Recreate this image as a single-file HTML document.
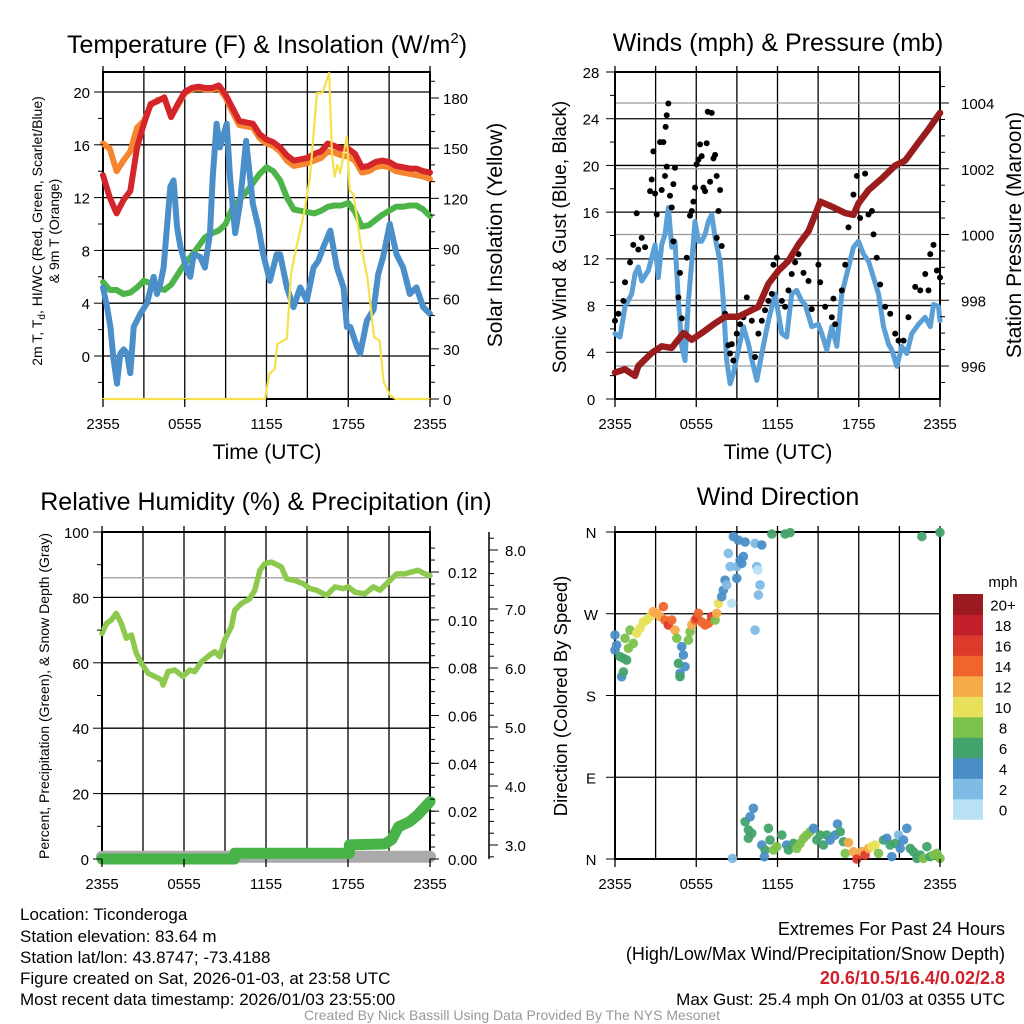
<!DOCTYPE html>
<html><head><meta charset="utf-8">
<style>
html,body{margin:0;padding:0;background:#fff;}
svg{display:block;font-family:"Liberation Sans",sans-serif;}
</style></head>
<body>
<svg id="chart" width="1024" height="1024" viewBox="0 0 1024 1024" xmlns="http://www.w3.org/2000/svg">
<rect x="0" y="0" width="1024" height="1024" fill="#fff"/>
<g id="p1"></g>
<g id="p2"></g>
<g id="p3"></g>
<g id="p4"></g>
<g id="txt" font-size="17" fill="#000">
<text x="267" y="53" font-size="25" text-anchor="middle">Temperature (F) &amp; Insolation (W/m<tspan dy="-10" font-size="15">2</tspan><tspan dy="10">)</tspan></text>
<text x="778" y="51" font-size="25" text-anchor="middle">Winds (mph) &amp; Pressure (mb)</text>
<text x="266" y="510" font-size="25" text-anchor="middle">Relative Humidity (%) &amp; Precipitation (in)</text>
<text x="778" y="505" font-size="25" text-anchor="middle">Wind Direction</text>
<text x="267" y="459" font-size="21" text-anchor="middle">Time (UTC)</text>
<text x="778" y="459" font-size="21" text-anchor="middle">Time (UTC)</text>
<text transform="translate(42,231) rotate(-90)" font-size="14" text-anchor="middle">2m T, T<tspan dy="3" font-size="10">d</tspan><tspan dy="-3">, HI/WC (Red, Green, Scarlet/Blue)</tspan></text>
<text transform="translate(59,231) rotate(-90)" font-size="14" text-anchor="middle">&amp; 9m T (Orange)</text>
<text transform="translate(502,235) rotate(-90)" font-size="21" text-anchor="middle">Solar Insolation (Yellow)</text>
<text transform="translate(566,237) rotate(-90)" font-size="19" text-anchor="middle">Sonic Wind &amp; Gust (Blue, Black)</text>
<text transform="translate(1021,235) rotate(-90)" font-size="21" text-anchor="middle">Station Pressure (Maroon)</text>
<text transform="translate(49,696) rotate(-90)" font-size="14" text-anchor="middle">Percent, Precipitation (Green), &amp; Snow Depth (Gray)</text>
<text transform="translate(567,696) rotate(-90)" font-size="18.5" text-anchor="middle">Direction (Colored By Speed)</text>
<text x="20" y="920">Location: Ticonderoga</text>
<text x="20" y="942">Station elevation: 83.64 m</text>
<text x="20" y="963">Station lat/lon: 43.8747; -73.4188</text>
<text x="20" y="984">Figure created on Sat, 2026-01-03, at 23:58 UTC</text>
<text x="20" y="1005">Most recent data timestamp: 2026/01/03 23:55:00</text>
<text x="1005" y="935" text-anchor="end" font-size="18">Extremes For Past 24 Hours</text>
<text x="1005" y="960" text-anchor="end" font-size="18">(High/Low/Max Wind/Precipitation/Snow Depth)</text>
<text x="1005" y="984" text-anchor="end" fill="#d0202a" font-size="18" font-weight="bold">20.6/10.5/16.4/0.02/2.8</text>
<text x="1005" y="1005" text-anchor="end">Max Gust: 25.4 mph On 01/03 at 0355 UTC</text>
<text x="512" y="1020" font-size="14" fill="#999" text-anchor="middle">Created By Nick Bassill Using Data Provided By The NYS Mesonet</text>
</g>
</svg>
<script>
// ---------- data ----------
const halfHours = [0,0.5,1,1.5,2,2.5,3,3.5,4,4.5,5,5.5,6,6.5,7,7.5,8,8.5,9,9.5,10,10.5,11,11.5,12,12.5,13,13.5,14,14.5,15,15.5,16,16.5,17,17.5,18,18.5,19,19.5,20,20.5,21,21.5,22,22.5,23,23.5,24];
const tempRed = [13.7,12.0,10.8,11.8,12.5,15.8,17.6,19.1,19.3,19.6,18.1,19.1,20.0,20.3,20.4,20.3,20.3,20.5,19.8,18.8,17.8,17.7,17.6,16.8,16.4,16.2,15.8,15.2,14.8,14.9,15.0,15.3,15.5,16.1,15.9,15.7,15.7,15.3,14.3,14.4,14.7,14.8,14.7,14.4,14.3,14.2,14.2,14.0,13.9];
const tempOrange = [16.1,15.7,14.0,14.8,15.5,17.3,17.8,19.0,19.4,19.5,18.2,19.0,19.9,20.2,20.3,20.2,20.2,20.3,19.6,18.5,17.5,17.4,17.3,16.5,16.1,15.9,15.5,14.8,14.4,14.5,14.6,14.8,15.0,15.5,15.4,15.2,15.1,14.8,13.9,14.0,14.3,14.4,14.3,14.0,13.9,13.8,13.7,13.6,13.4];
const tempGreen = [5.6,5.0,5.0,4.7,4.8,5.2,5.7,5.5,5.2,5.0,5.4,6.2,7.0,7.6,8.3,9.0,9.3,9.5,10.0,11.2,11.8,12.4,13.1,13.8,14.3,14.0,13.3,12.0,11.1,11.0,10.9,10.8,11.0,11.3,11.4,11.4,11.6,10.9,9.8,9.9,10.3,10.7,11.0,11.3,11.3,11.4,11.4,11.1,10.6];
const dewTime = [0,0.3,0.54,0.78,1.03,1.27,1.52,1.76,2.0,2.25,2.74,3.23,3.72,3.96,4.21,4.45,4.94,5.18,5.43,5.67,6.16,6.41,6.65,7.14,7.48,7.85,8.05,8.34,8.58,9.08,9.33,9.7,10.05,10.5,11.0,11.4,11.76,12.25,12.75,13.0,13.5,13.98,14.47,14.96,15.45,15.8,16.19,16.68,17.17,17.65,17.9,18.15,18.64,18.88,19.37,19.85,20.2,20.56,21.05,21.54,22.03,22.52,23.0,23.5,24];
const dewVals = [5.2,3.7,2.2,-0.3,-2.1,0.2,0.5,0.2,-1.3,2.2,3.2,4.0,6.0,4.7,5.5,6.7,12.8,13.3,9.8,8.3,6.5,6.0,7.7,7.5,6.7,9.3,13.5,17.6,15.8,17.6,13.5,9.3,11.5,16.3,11.5,9.8,7.7,5.7,7.7,7.7,5.2,3.7,5.2,4.2,6.7,7.2,8.3,9.5,6.7,5.2,2.2,2.2,0.7,0.2,2.7,3.5,6.2,7.5,10.0,7.7,6.7,4.7,5.2,3.7,3.2,4.2];
const solarTime = [0,11.9,12.2,12.6,12.8,13.5,13.8,14.2,14.7,15.2,15.7,16.1,16.6,16.8,17.0,17.2,17.4,17.9,18.1,18.4,18.9,19.4,19.9,20.3,20.6,21.1,21.5,24];
const solarVals = [0,0,15,18,33,36,75,91,109,133,183,183,195,147,133,140,135,157,125,122,93,73,37,35,10,2,0,0];
const windTime = [0,0.37,0.74,1.23,1.48,1.72,1.97,2.46,2.96,3.2,3.45,3.69,3.94,4.19,4.43,4.68,4.93,5.17,5.42,5.67,5.91,6.16,6.4,6.65,6.9,7.14,7.39,7.76,8.0,8.25,8.5,8.74,9.11,9.48,9.85,10.22,10.47,10.84,11.33,11.82,12.07,12.32,12.68,13.05,13.42,13.79,14.04,14.53,15.02,15.27,15.64,16.01,16.38,16.75,17.12,17.61,17.98,18.35,18.72,19.09,19.46,19.83,20.2,20.44,20.81,21.18,21.55,21.92,22.41,22.9,23.28,23.52,23.89,24];
const windVals = [5.6,5.3,7.9,9.0,10.7,11.3,10.1,11.0,13.2,10.4,13.2,14.1,16.4,13.0,13.5,8.4,4.5,3.3,8.4,11.8,15.2,13.5,13.5,14.1,15.2,15.8,13.8,11.8,8.4,3.3,1.3,2.2,4.2,6.2,4.7,2.8,1.6,3.9,6.7,9.0,7.3,5.6,5.3,9.0,9.3,8.4,8.1,6.2,6.4,5.6,4.2,6.2,4.5,9.0,10.7,13.0,13.5,12.4,11.8,10.4,9.0,6.2,4.7,4.2,2.8,4.5,3.9,5.6,6.4,7.0,6.2,8.1,7.9,6.7];
const gustTime = [0,0.25,0.62,0.74,1.11,1.35,1.6,1.72,1.97,2.22,2.59,2.71,2.83,2.96,3.08,3.33,3.45,3.57,3.69,3.74,3.82,3.94,3.82,4.06,4.19,4.31,4.43,4.31,4.8,4.68,4.93,5.17,5.3,5.54,5.67,5.79,5.91,6.03,6.16,6.28,6.4,6.53,6.65,6.77,6.85,7.02,7.14,7.27,7.39,7.51,7.64,7.76,7.88,7.51,8.13,8.37,8.5,8.62,8.74,8.99,9.24,9.48,9.73,10.1,10.34,10.59,10.84,11.08,11.33,11.58,11.7,11.95,12.32,12.56,12.81,13.05,13.3,13.55,13.92,14.29,14.53,15.02,15.15,15.52,16.01,16.13,16.26,16.75,17.0,17.24,17.61,17.86,18.1,18.47,18.72,18.97,19.09,19.33,19.58,19.95,20.32,20.69,20.94,21.31,21.67,22.17,22.54,22.91,23.15,23.28,23.52,23.77,24.0];
const gustVals = [6.7,7.3,8.4,10.0,11.7,13.2,15.9,12.8,13.8,13.0,17.8,18.8,21.2,17.6,15.8,22.0,17.9,22.0,19.1,23.3,24.3,25.3,19.9,17.4,16.4,18.4,19.8,13.5,10.8,8.7,6.9,5.6,12.1,15.7,16.1,16.9,18.1,20.1,20.5,21.8,20.8,18.1,17.8,21.9,24.6,18.6,24.5,20.6,20.9,19.1,16.1,17.9,13.1,13.8,7.3,4.6,3.9,4.7,3.3,5.6,6.4,7.0,8.7,6.7,3.6,5.6,6.7,7.6,8.4,9.0,11.5,12.1,8.4,7.9,9.3,10.7,11.7,12.4,10.8,10.1,7.7,11.5,10.0,7.9,7.0,8.6,6.4,9.3,11.5,14.7,17.5,19.1,15.5,19.3,15.8,16.1,14.1,12.1,9.8,7.9,7.3,5.6,5.0,5.0,7.0,9.6,9.3,10.7,9.3,12.4,13.2,11.0,10.4];
const presTime = [0,0.74,1.48,1.72,2.71,3.45,4.19,5.05,5.67,6.4,7.39,8.13,9.11,10.59,11.33,12.07,12.81,13.55,14.29,14.78,15.15,16.01,16.99,17.61,17.98,18.72,19.7,20.69,21.43,22.41,23.15,24];
const presVals = [995.8,995.9,995.7,996.0,996.4,996.6,996.55,997.0,996.8,997.0,997.3,997.5,997.5,997.8,998.5,998.9,999.2,999.7,1000.1,1000.6,1001.0,1000.85,1000.65,1000.6,1000.95,1001.35,1001.7,1002.1,1002.25,1002.8,1003.2,1003.7];
const rhTime = [0,0.32,0.68,1.05,1.42,1.78,2.15,2.51,2.88,3.37,3.86,4.35,4.47,4.83,5.32,5.93,6.42,6.79,7.28,7.89,8.25,8.62,8.98,9.47,9.72,10.2,10.81,11.18,11.55,11.91,12.4,13.13,13.5,14.11,14.72,15.21,15.7,16.43,17.04,17.65,18.02,18.51,19.24,19.85,20.34,20.95,21.56,22.17,22.66,23.14,23.63,24];
const rhVals = [69.0,72.0,73.1,75.1,72.0,67.5,68.5,62.9,59.9,56.8,55.8,54.8,53.2,57.3,57.8,55.8,57.8,57.3,60.3,62.4,63.4,61.9,67.0,71.0,76.1,78.1,79.6,82.2,88.3,90.3,90.8,89.3,85.7,85.2,84.2,82.7,82.2,80.6,83.2,82.7,83.2,81.6,81.1,83.2,82.2,84.7,87.2,87.2,87.8,88.3,87.2,86.7];
const precipTime = [0,9.7,9.7,18.1,18.1,20.7,21.2,21.7,22.5,23.1,24];
const precipVals = [0,0,0.0024,0.0024,0.0059,0.0063,0.0081,0.0135,0.0156,0.0184,0.024];
const snowTime = [0,24];
const snowVals = [2.8,2.8];
const dirTime = [0,0.12,0,0.37,0.62,0.86,0.49,0.62,0.74,0.99,1.11,1.35,1.6,1.85,2.09,2.34,2.59,2.83,3.08,3.33,3.57,3.69,3.94,4.19,4.43,4.56,4.93,5.05,5.17,4.68,4.8,4.8,5.42,5.54,5.67,5.91,6.03,6.16,6.4,6.65,6.9,7.14,7.39,7.51,7.64,7.88,8.0,8.13,8.25,8.37,8.5,8.62,8.74,8.99,8.99,9.24,9.36,9.48,9.11,9.61,10.34,10.47,10.54,10.71,10.59,10.84,10.34,11.58,12.56,12.93,22.66,24.0,8.67,
9.61,9.85,9.98,10.22,10.1,9.85,10.84,11.08,11.03,11.33,11.45,11.7,11.95,12.32,12.68,12.81,13.18,13.42,13.67,13.92,14.16,14.41,14.66,14.9,15.15,15.39,15.64,15.89,16.26,16.43,16.63,16.87,17.24,17.0,17.61,17.86,18.23,18.47,18.72,18.97,19.21,19.46,19.83,20.07,20.32,20.44,20.69,20.94,21.06,21.31,21.55,21.8,22.04,22.29,22.54,22.78,23.03,23.28,23.52,23.77,24.0];
const dirDeg = [246.6,235.6,230,222.8,221,219,200.7,206,243,232,252,237.4,248.5,254,261,263,266.8,272.3,270.5,266.8,277.8,263,257.6,263,252,243,233.8,224.6,211.8,215.4,204.4,200.7,241,250,257.6,263,265,270.5,261,257.6,259.5,266.8,263,270.5,281.5,288.8,296,307,301.7,336.5,321.9,281.5,355,309,321.9,329,325.5,333,351,349,347.5,321.9,318,301.7,290.7,345.7,252,357.8,357.8,359.3,355,359.6,0.7,
41,32,46.6,55.8,28.3,22.8,15.4,9.9,2.6,33.8,20.9,9.9,13.6,26.4,15.4,9.9,17.2,11.7,17.2,22.8,26.4,30,33.8,20.9,26.4,15.4,26.4,20.9,26.4,38.5,30,19,18,6.2,8,0,8,4.4,11.7,13.6,15.4,6.2,20.9,22.8,15.4,2.6,17.2,26.4,11.7,20.9,33.8,11.7,8,0.7,4.4,0.7,13.6,2.6,4.4,6.2,0.7];
const dirSpeed = [4.5,4.5,4.5,6.5,6.5,6.5,4.5,6.5,8.5,8.5,8.5,8.5,10.5,10.5,10.5,10.5,10.5,12.5,12.5,12.5,14.5,14.5,16.5,14.5,12.5,8.5,4.5,4.5,4.5,6.5,4.5,6.5,8.5,8.5,12.5,14.5,16.5,14.5,14.5,14.5,14.5,16.5,8.5,12.5,10.5,4.5,4.5,4.5,2.5,2.5,2.5,1,4.5,4.5,2.5,4.5,4.5,4.5,4.5,4.5,2.5,2.5,1,2.5,2.5,4.5,2.5,6.5,6.5,6.5,6.5,6.5,2.5,
6.5,6.5,4.5,4.5,6.5,6.5,4.5,6.5,4.5,6.5,6.5,8.5,8.5,6.5,4.5,6.5,6.5,8.5,8.5,8.5,8.5,8.5,4.5,6.5,6.5,6.5,6.5,4.5,4.5,4.5,6.5,6.5,12.5,8.5,12.5,16.5,12.5,16.5,12.5,10.5,10.5,8.5,6.5,4.5,6.5,4.5,6.5,2.5,4.5,4.5,4.5,6.5,6.5,6.5,6.5,8.5,6.5,6.5,8.5,8.5,8.5];
const speedBins = ["0","2","4","6","8","10","12","14","16","18","20+"];
const speedColors = ["#b9e2f7","#7fbbe4","#4a8ec8","#43a36c","#7cc14c","#e8e05a","#f7aa4a","#ef662d","#de3a2c","#c1202a","#9a1a1f"];
const xTickLabels = ["2355","0555","1155","1755","2355"];
const tempTicks = [0,4,8,12,16,20];
const solarTicks = [0,30,60,90,120,150,180];
const windTicks = [0,4,8,12,16,20,24,28];
const presTicks = [996,998,1000,1002,1004];
const rhTicks = [0,20,40,60,80,100];
const precipTicks = [0,0.02,0.04,0.06,0.08,0.10,0.12];
const snowTicks = [3,4,5,6,7,8];
const dirLabels = ["N","E","S","W","N"];

// ---------- helpers ----------
const NS="http://www.w3.org/2000/svg";
function mk(parent,tag,attrs){const e=document.createElementNS(NS,tag);for(const k in attrs)e.setAttribute(k,attrs[k]);parent.appendChild(e);return e;}
function lin(d0,d1,r0,r1){return v=>r0+(v-d0)*(r1-r0)/(d1-d0);}
function pathOf(ts,vs,sx,sy){return ts.map((t,i)=>(i?'L':'M')+sx(t).toFixed(1)+' '+sy(vs[i]).toFixed(1)).join(' ');}
function txt(parent,x,y,s,anchor,size){const e=mk(parent,'text',{x:x,y:y,'text-anchor':anchor||'middle','font-size':size||15});e.textContent=s;return e;}

function frame(g,L,R,T,B,hTicksY,gray){
  for(let h=0;h<=24;h+=3){const x=L+(R-L)*h/24;
    const ln=mk(g,'line',{x1:x,y1:T-6,x2:x,y2:B,stroke:'#000','stroke-width':1.3});
    
    
  }
  (gray||[]).forEach(y=>{const ln=mk(g,'line',{x1:L,y1:y,x2:R,y2:y,stroke:'#999','stroke-width':1.3});
    
    });
  hTicksY.forEach(y=>{const ln=mk(g,'line',{x1:L,y1:y,x2:R,y2:y,stroke:'#000','stroke-width':1.3});
    
    });
  const r=mk(g,'rect',{x:L,y:T,width:R-L,height:B-T,fill:'none',stroke:'#000','stroke-width':2});
  
  
}
function xTicks(g,L,R,B){
  xTickLabels.forEach((s,i)=>{const x=L+(R-L)*i/4;
    mk(g,'line',{x1:x,y1:B,x2:x,y2:B+8,stroke:'#000','stroke-width':1.3});
    const t=txt(g,x,B+30,s,'middle',15);
    
    });
}
function lineSeries(g,ts,vs,sx,sy,color,w,name){
  const p=mk(g,'path',{d:pathOf(ts,vs,sx,sy),fill:'none',stroke:color,'stroke-width':w,'stroke-linejoin':'round','stroke-linecap':'round'});
  
  
}

// ---------- panel 1 ----------
(function(){
  const g=document.getElementById('p1');const L=103,R=430,T=72,B=399;
  const sx=lin(0,24,L,R), sy=lin(0,20,356,92), sr=lin(0,180,399,98);
  frame(g,L,R,T,B,tempTicks.map(sy));
  lineSeries(g,halfHours,tempOrange,sx,sy,'#f5862f',6,'temp-9m-line');
  lineSeries(g,halfHours,tempRed,sx,sy,'#d3252a',6,'temp-2m-line');
  lineSeries(g,halfHours,tempGreen,sx,sy,'#4db548',6,'heat-index-line');
  lineSeries(g,dewTime,dewVals,sx,sy,'#4a8fc9',6,'dewpoint-line');
  lineSeries(g,solarTime,solarVals,sx,sr,'#f6e04c',2.2,'insolation-line');
  tempTicks.forEach(v=>{const y=sy(v);mk(g,'line',{x1:L-9,y1:y,x2:L,y2:y,stroke:'#000'});
    const t=txt(g,L-13,y+6,String(v),'end',15);});
  for(let v=-2;v<=21;v+=2){if(v%4)mk(g,'line',{x1:L-5,y1:sy(v),x2:L,y2:sy(v),stroke:'#000'});}
  solarTicks.forEach(v=>{const y=sr(v);mk(g,'line',{x1:R,y1:y,x2:R+9,y2:y,stroke:'#000'});
    const t=txt(g,R+13,y+6,String(v),'start',15);});
  for(let v=10;v<=190;v+=10){if(v%30)mk(g,'line',{x1:R,y1:sr(v),x2:R+5,y2:sr(v),stroke:'#000'});}
  xTicks(g,L,R,B);
})();

// ---------- panel 2 ----------
(function(){
  const g=document.getElementById('p2');const L=615,R=940,T=72,B=399;
  const sx=lin(0,24,L,R), sy=lin(0,28,399,72), sp=lin(996,1004,366,103);
  frame(g,L,R,T,B,windTicks.slice(1,7).map(sy),presTicks.map(sp));
  lineSeries(g,windTime,windVals,sx,sy,'#5a9fd6',5,'sonic-wind-line');
  gustTime.forEach((t,i)=>{const c=mk(g,'circle',{cx:sx(t),cy:sy(gustVals[i]),r:3,fill:'#000'});
    
    });
  lineSeries(g,presTime,presVals,sx,sp,'#9b1c1c',6.5,'pressure-line');
  windTicks.forEach(v=>{const y=sy(v);mk(g,'line',{x1:L-9,y1:y,x2:L,y2:y,stroke:'#000'});
    const t=txt(g,L-24,y+6,String(v),'middle',15);});
  for(let v=2;v<=28;v+=4)mk(g,'line',{x1:L-5,y1:sy(v),x2:L,y2:sy(v),stroke:'#000'});
  presTicks.forEach(v=>{const y=sp(v);mk(g,'line',{x1:R,y1:y,x2:R+9,y2:y,stroke:'#000'});
    const t=txt(g,R+21,y+6,String(v),'start',15);});
  for(let v=995.5;v<=1004.5;v+=0.5){if(v%2)mk(g,'line',{x1:R,y1:sp(v),x2:R+5,y2:sp(v),stroke:'#000'});}
  xTicks(g,L,R,B);
})();

// ---------- panel 3 ----------
(function(){
  const g=document.getElementById('p3');const L=102,R=430,T=532,B=859;
  const sx=lin(0,24,L,R), sy=lin(0,100,859,532), spr=lin(0,0.12,859,572), ssn=lin(3,8,845,550);
  frame(g,L,R,T,B,rhTicks.slice(1,5).map(sy),[sy(86)]);
  lineSeries(g,snowTime,snowVals,sx,ssn,'#aaaaaa',12,'snow-depth-line');
  lineSeries(g,precipTime,precipVals,sx,spr,'#48b348',11,'precipitation-line');
  lineSeries(g,rhTime,rhVals,sx,sy,'#8dc94f',5.5,'humidity-line');
  rhTicks.forEach(v=>{const y=sy(v);mk(g,'line',{x1:L-9,y1:y,x2:L,y2:y,stroke:'#000'});
    const t=txt(g,L-13,y+6,String(v),'end',15);});
  for(let v=10;v<=90;v+=20)mk(g,'line',{x1:L-5,y1:sy(v),x2:L,y2:sy(v),stroke:'#000'});
  precipTicks.forEach(v=>{const y=spr(v);mk(g,'line',{x1:R,y1:y,x2:R+9,y2:y,stroke:'#000'});
    const t=txt(g,R+18,y+6,v.toFixed(2),'start',15);});
  for(let v=0.005;v<=0.135;v+=0.005){mk(g,'line',{x1:R,y1:spr(v),x2:R+5,y2:spr(v),stroke:'#000'});}
  const SX=489;mk(g,'line',{x1:SX,y1:532,x2:SX,y2:859,stroke:'#000','stroke-width':1.5});
  snowTicks.forEach(v=>{const y=ssn(v);mk(g,'line',{x1:SX,y1:y,x2:SX+9,y2:y,stroke:'#000'});
    const t=txt(g,SX+16,y+6,v.toFixed(1),'start',15);});
  for(let v=2.8;v<=8.3;v+=0.2){mk(g,'line',{x1:SX,y1:ssn(v),x2:SX+5,y2:ssn(v),stroke:'#000'});}
  xTicks(g,L,R,B);
})();

// ---------- panel 4 ----------
(function(){
  const g=document.getElementById('p4');const L=615,R=940,T=532,B=859;
  const sx=lin(0,24,L,R), sy=lin(0,360,859,532);
  frame(g,L,R,T,B,[90,180,270].map(sy));
  dirLabels.forEach((s,i)=>{const y=sy(i*90);mk(g,'line',{x1:L-9,y1:y,x2:L,y2:y,stroke:'#000'});
    const t=txt(g,L-24,y+6,s,'middle',15);});
  dirTime.forEach((t,i)=>{const bin=Math.min(10,Math.floor(dirSpeed[i]/2));
    const c=mk(g,'circle',{cx:sx(t),cy:sy(dirDeg[i]),r:4.8,fill:speedColors[bin],'fill-opacity':0.95});
    
    });
  xTicks(g,L,R,B);
  const cb=mk(g,'g',{});
  
  
  const top=594,h=20.5;
  const u=txt(cb,1003,587,'mph','middle',15);
  speedBins.forEach((s,i)=>{const y=top+(10-i)*h;
    const r=mk(cb,'rect',{x:953,y:y,width:30,height:h+0.3,fill:speedColors[i]});
    
    
    const t=txt(cb,1003,y+h/2+6,s,'middle',15);
    
    });
})();
</script>
</body></html>
